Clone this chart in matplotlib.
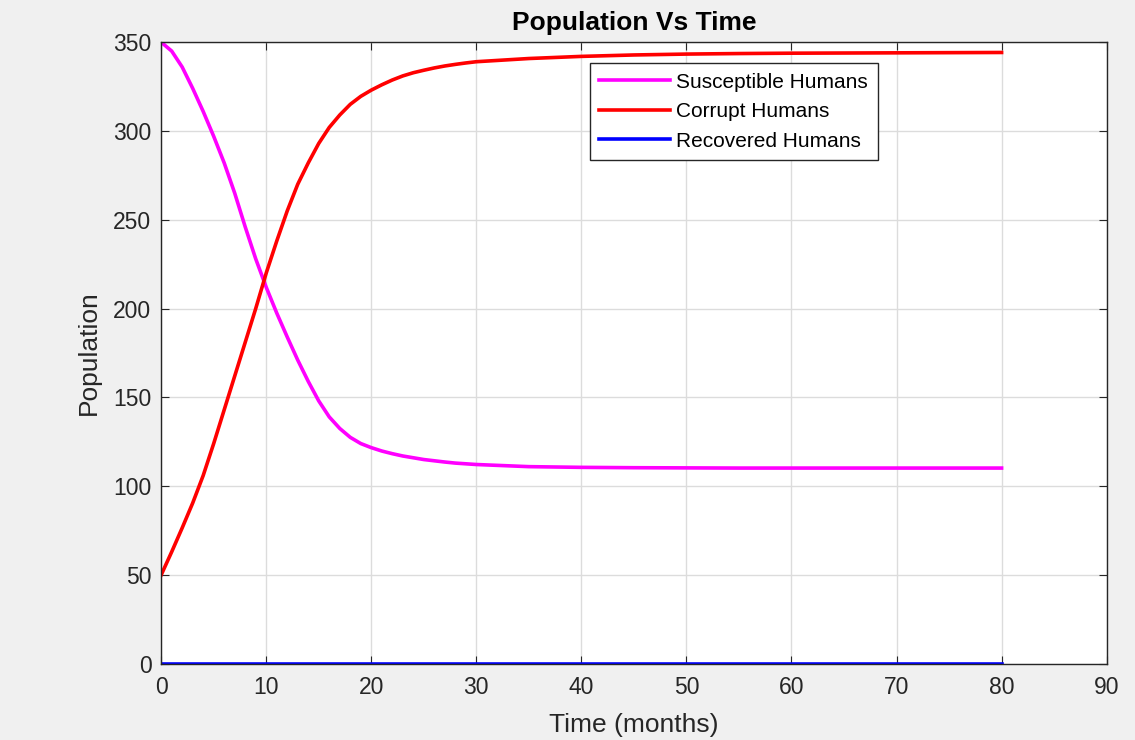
import matplotlib.pyplot as plt

plt.rcParams['font.family'] = ['Liberation Sans', 'DejaVu Sans']

# time (months)
t = list(range(0, 31)) + [35, 40, 45, 50, 55, 60, 65, 70, 75, 80]

susceptible = [350, 345, 336, 324, 311, 297, 282, 265, 246, 228,
               212, 197.5, 184, 171, 159, 148, 139, 132.5, 127.5, 124,
               121.7, 119.8, 118.3, 117, 116, 115, 114.3, 113.6, 113, 112.6,
               112.2, 111, 110.6, 110.4, 110.3, 110.2, 110.2, 110.2, 110.2, 110.2,
               110.2]
corrupt = [50, 63, 76.5, 90.5, 106, 124, 143, 162, 181, 200,
           220, 238, 255, 270, 282, 293, 302, 309, 315, 319.5,
           323, 326, 328.7, 331, 332.8, 334.2, 335.5, 336.6, 337.5, 338.3,
           339, 340.8, 342, 342.8, 343.3, 343.6, 343.8, 343.9, 344, 344.1,
           344.2]
recovered = [0] * len(t)

fig = plt.figure(figsize=(11.35, 7.4), dpi=100, facecolor='#f0f0f0')
ax = fig.add_axes([0.142, 0.103, 0.833, 0.84])
ax.set_facecolor('white')

ax.plot(t, susceptible, color='#ff00ff', lw=2.6, label='Susceptible Humans')
ax.plot(t, corrupt, color='#ff0000', lw=2.6, label='Corrupt Humans')
ax.plot(t, recovered, color='#0000ff', lw=2.6, label='Recovered Humans')

ax.set_xlim(0, 90)
ax.set_ylim(0, 350)
ax.set_xticks(range(0, 91, 10))
ax.set_yticks(range(0, 351, 50))
ax.grid(True, color='#dcdcdc', lw=1)
ax.set_axisbelow(True)
ax.tick_params(direction='in', length=6, top=True, right=True,
               labelsize=16.5, colors='#262626')
ax.tick_params(axis='x', pad=9)
ax.tick_params(axis='y', pad=7)
for s in ax.spines.values():
    s.set_color('#262626')
    s.set_linewidth(1)

ax.set_title('Population Vs Time', fontsize=19, fontweight='bold', pad=9)
ax.set_xlabel('Time (months)', fontsize=19, color='#262626', labelpad=10)
ax.set_ylabel('Population', fontsize=19, color='#262626', labelpad=9)

leg = ax.legend(loc='upper left', bbox_to_anchor=(0.4535, 0.966),
                borderaxespad=0, fontsize=15, handlelength=3.4,
                handletextpad=0.3, fancybox=False, framealpha=1,
                edgecolor='#262626', labelspacing=0.5, borderpad=0.45)
leg.get_frame().set_linewidth(1)

fig.savefig('out.png', dpi=100, facecolor=fig.get_facecolor())
